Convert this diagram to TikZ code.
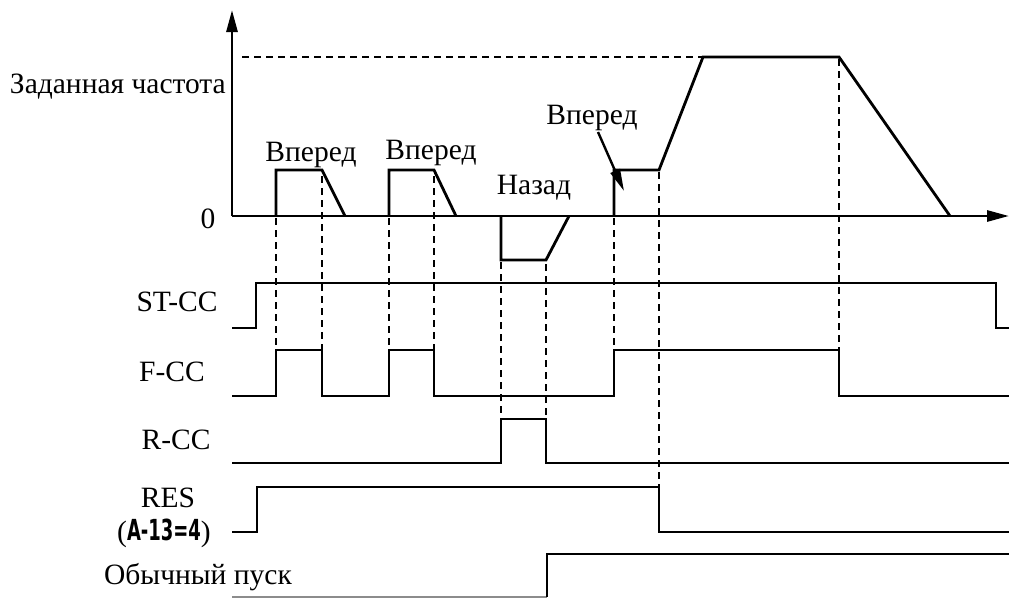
\documentclass[tikz,border=0pt]{standalone}
\usepackage{fontspec}
\usepackage{graphicx}
\setmainfont{Liberation Serif}
\newfontfamily\segfont{DejaVu Sans}
\usetikzlibrary{arrows.meta}
\tikzset{
  sig/.style={line width=2.8pt, line join=miter},
  axis/.style={line width=2.8pt, -{Triangle[length=22pt,width=11pt]}},
  dsh/.style={line width=2.6pt, dash pattern=on 7pt off 5pt},
  lbl/.style={font=\fontsize{29.5}{33}\selectfont, inner sep=0pt},
  pointer/.style={line width=2.4pt, -{Triangle[length=22pt,width=10pt]}}
}
\begin{document}
\begin{tikzpicture}[x=1pt,y=-1pt]
\useasboundingbox (0,0) rectangle (1009,598);
% axes
\coordinate (O) at (232,216);
\coordinate (Ytop) at (232,10);
\coordinate (Xend) at (1009,216);
\draw[axis] (O) -- (Ytop);
\draw[axis] (O) -- (Xend);
% set frequency dashed line
\coordinate (F0) at (242,57);
\coordinate (F1) at (703,57);
\draw[dsh] (F0) -- (F1);
% frequency waveform
\draw[sig] (276,216) -- (276,170) -- (322,170) -- (345,216);
\draw[sig] (389,216) -- (389,170) -- (434,170) -- (456,216);
\draw[sig] (501,216) -- (501,260) -- (546,260) -- (569,216);
\draw[sig] (614,216) -- (614,170) -- (659,170) -- (703,57) -- (839,57) -- (950,216);
% labels top
\node[lbl, anchor=east] (lf) at (226,87) {Заданная частота};
\node[lbl] (l0) at (208,219) {0};
\node[lbl] (v1) at (311,155) {Вперед};
\node[lbl] (v2) at (431,153) {Вперед};
\node[lbl] (nz) at (534,188) {Назад};
\node[lbl] (v3) at (592,118) {Вперед};
\coordinate (v3tip) at (624,191);
\draw[pointer] (598,132) -- (v3tip);
% ST-CC
\draw[sig] (232,328) -- (256,328) -- (256,283) -- (996,283) -- (996,328) -- (1009,328);
% F-CC
\draw[sig] (232,396) -- (276,396) -- (276,350) -- (322,350) -- (322,396) -- (389,396) -- (389,350) -- (434,350) -- (434,396) -- (614,396) -- (614,350) -- (839,350) -- (839,396) -- (1009,396);
% R-CC
\draw[sig] (232,463) -- (501,463) -- (501,419) -- (546,419) -- (546,463) -- (1009,463);
% RES
\draw[sig] (232,532) -- (257,532) -- (257,487) -- (659,487) -- (659,532) -- (1009,532);
% normal start
\draw[line width=2.2pt, black!45] (232,597) -- (547,597);
\draw[sig] (547,597) -- (547,554) -- (1009,554);
% dashed verticals
\draw[dsh] (276,218) -- (276,350);
\draw[dsh] (322,176) -- (322,350);
\draw[dsh] (389,218) -- (389,350);
\draw[dsh] (434,176) -- (434,350);
\draw[dsh] (501,262) -- (501,419);
\draw[dsh] (546,264) -- (546,419);
\draw[dsh] (614,218) -- (614,350);
\draw[dsh] (659,172) -- (659,487);
\draw[dsh] (839,59) -- (839,350);
% lower labels
\node[lbl] (lst) at (177,302) {ST-CC};
\node[lbl] (lfc) at (172,372) {F-CC};
\node[lbl] (lrc) at (176,440) {R-CC};
\node[lbl] (lres) at (168,498) {RES};
\node[lbl] (lpar) at (164,533) {(\raisebox{1pt}{\segfont\bfseries\fontsize{29}{32}\selectfont\scalebox{0.62}[1]{A-13=4}})};
\node[lbl] (lnorm) at (198,577) {Обычный пуск};
\end{tikzpicture}
\end{document}
